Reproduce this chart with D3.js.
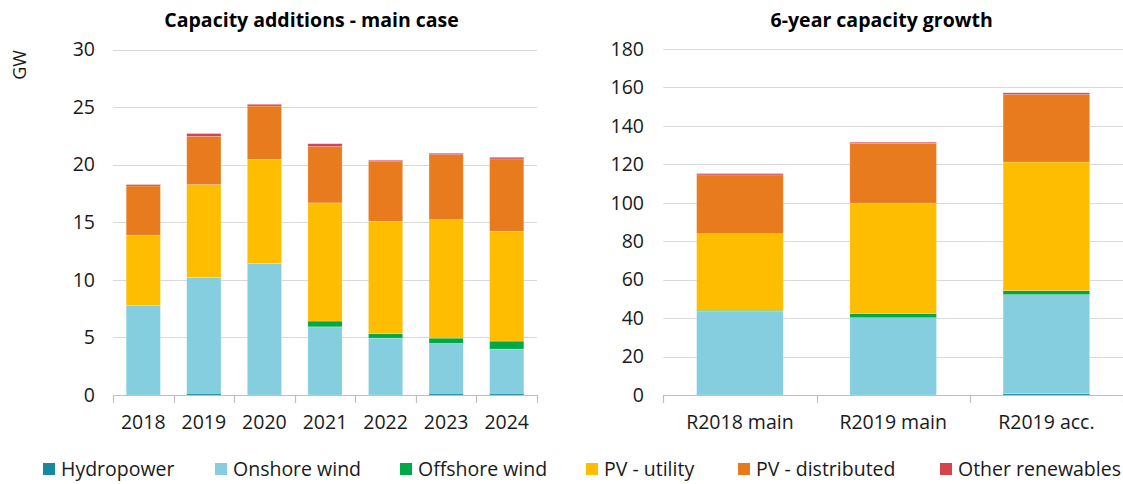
<!DOCTYPE html>
<html><head><meta charset="utf-8">
<script src="https://cdn.jsdelivr.net/npm/d3@7"></script>
<style>
html,body{margin:0;padding:0;background:#fff;}
svg{display:block;font-family:"Open Sans","Noto Sans",sans-serif;}
</style></head>
<body><svg id="c" width="1123" height="484"></svg>
<script>
const seriesNames = ["Hydropower","Onshore wind","Offshore wind","PV - utility","PV - distributed","Other renewables"];
const seriesColors = ["#17899E","#84CEE0","#00A84A","#FFBD00","#E87B1E","#D6434C"];

const yearsLeft = ["2018","2019","2020","2021","2022","2023","2024"];
const hydroLeft    = [0,    0.15, 0,    0,     0,    0.15, 0.15];
const onshoreLeft  = [7.75, 10.05,11.42,5.92,  4.94, 4.33, 3.84];
const offshoreLeft = [0,    0,    0,    0.5,   0.38, 0.46, 0.69];
const utilityLeft  = [6.13, 8.07, 9.05, 10.26, 9.77, 10.29,9.54];
const distLeft     = [4.27, 4.19, 4.62, 4.89,  5.17, 5.64, 6.28];
const otherLeft    = [0.12, 0.24, 0.15, 0.25,  0.12, 0.12, 0.14];
const ticksLeft = [0,5,10,15,20,25,30];

const casesRight = ["R2018 main","R2019 main","R2019 acc."];
const hydroRight    = [0,    0,    0.7];
const onshoreRight  = [43.6, 40.2, 51.5];
const offshoreRight = [0.5,  2.2,  2.1];
const utilityRight  = [39.8, 57.4, 66.9];
const distRight     = [30.6, 31.1, 35.1];
const otherRight    = [0.7,  0.6,  0.9];
const ticksRight = [0,20,40,60,80,100,120,140,160,180];

const svg = d3.select("#c");

function panel(opts){
  const {cats, series, ticks, ymax, x0, x1, y0, y1, title, titleX, labelRight} = opts;
  const g = svg.append("g");
  const x = d3.scaleBand().domain(cats).range([x0, x1]).paddingInner(0.435).paddingOuter(0.2175);
  const y = d3.scaleLinear().domain([0, ymax]).range([y0, y1]);
  g.append("g").selectAll("line").data(ticks.filter(t=>t>0)).join("line")
    .attr("x1", x0).attr("x2", x1)
    .attr("y1", d=>Math.round(y(d))+0.5).attr("y2", d=>Math.round(y(d))+0.5)
    .attr("stroke", "#d9d9d9").attr("stroke-width", 1);
  g.append("g").selectAll("text").data(ticks).join("text")
    .attr("x", labelRight).attr("y", d=>y(d)).attr("dy","0.35em")
    .attr("text-anchor","end").attr("font-size", 19.5).attr("fill","#1a1a1a")
    .text(d=>d);
  const rows = cats.map((c,i)=>{ const r={cat:c}; seriesNames.forEach((s,j)=>r[s]=series[j][i]); return r; });
  const stack = d3.stack().keys(seriesNames)(rows);
  g.append("g").selectAll("g").data(stack).join("g")
    .attr("fill", (d,i)=>seriesColors[i])
    .selectAll("rect").data(d=>d).join("rect")
    .attr("x", d=>x(d.data.cat)).attr("width", x.bandwidth())
    .attr("y", d=>y(d[1])).attr("height", d=>Math.max(0, y(d[0])-y(d[1])))
    .attr("stroke","#fff").attr("stroke-opacity",0.35).attr("stroke-width",0.6);
  const ax = g.append("g");
  ax.append("line").attr("x1", x0).attr("x2", x1).attr("y1", y0+0.5).attr("y2", y0+0.5)
    .attr("stroke","#bfbfbf").attr("stroke-width",1.2);
  const bounds = cats.map(c=>x(c)-x.step()*x.paddingInner()/2);
  bounds.push(x1);
  ax.selectAll("line.t").data(bounds).join("line").attr("class","t")
    .attr("x1", d=>Math.round(d)+0.5).attr("x2", d=>Math.round(d)+0.5)
    .attr("y1", y0).attr("y2", y0+8).attr("stroke","#bfbfbf").attr("stroke-width",1.2);
  ax.selectAll("text").data(cats).join("text")
    .attr("x", d=>x(d)+x.bandwidth()/2).attr("y", y0+34)
    .attr("text-anchor","middle").attr("font-size",19.5).attr("fill","#1a1a1a")
    .text(d=>d);
  g.append("text").attr("x", titleX).attr("y", 27)
    .attr("text-anchor","middle").attr("font-size",19.5).attr("font-weight","bold").attr("fill","#000")
    .text(title);
}

panel({cats: yearsLeft,
  series:[hydroLeft,onshoreLeft,offshoreLeft,utilityLeft,distLeft,otherLeft],
  ticks: ticksLeft, ymax:30, x0:113, x1:537, y0:395, y1:49.5,
  title:"Capacity additions - main case", titleX:311.6, labelRight:95});

panel({cats: casesRight,
  series:[hydroRight,onshoreRight,offshoreRight,utilityRight,distRight,otherRight],
  ticks: ticksRight, ymax:180, x0:663.3, x1:1123, y0:395, y1:49,
  title:"6-year capacity growth", titleX:881.7, labelRight:644});

svg.append("text").attr("transform","translate(26,65) rotate(-90)")
  .attr("text-anchor","middle").attr("font-size",18).attr("fill","#1a1a1a").text("GW");

const legendX = [43, 215, 400, 586, 738, 940];
const lg = svg.append("g").selectAll("g").data(seriesNames).join("g")
  .attr("transform", (d,i)=>`translate(${legendX[i]},463)`);
lg.append("rect").attr("width",12).attr("height",12).attr("fill",(d,i)=>seriesColors[i]);
lg.append("text").attr("x",18).attr("y",6).attr("dy","0.35em")
  .attr("font-size",19.5).attr("fill","#1a1a1a").text(d=>d);
</script></body></html>
